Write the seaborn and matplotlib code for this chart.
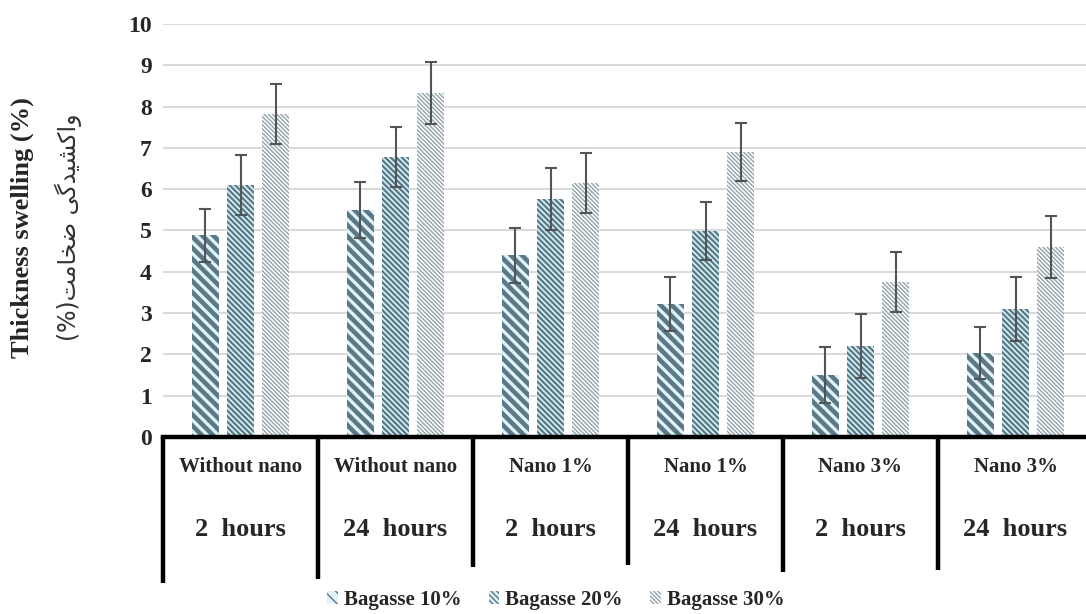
import numpy as np
import pandas as pd
import seaborn as sns
import matplotlib.pyplot as plt
from matplotlib.patches import Patch
from matplotlib.transforms import blended_transform_factory

# values
groups = ["G1", "G2", "G3", "G4", "G5", "G6"]
label_top = ["Without nano", "Without nano", "Nano 1%", "Nano 1%", "Nano 3%", "Nano 3%"]
label_bottom = ["2  hours", "24  hours", "2  hours", "24  hours", "2  hours", "24  hours"]
series = ["Bagasse 10%", "Bagasse 20%", "Bagasse 30%"]
bag10 = [4.88, 5.50, 4.40, 3.22, 1.50, 2.03]
bag20 = [6.10, 6.78, 5.76, 4.99, 2.20, 3.10]
bag30 = [7.82, 8.33, 6.15, 6.90, 3.75, 4.60]
err10 = [0.65, 0.67, 0.66, 0.65, 0.68, 0.63]
err20 = [0.73, 0.72, 0.75, 0.70, 0.78, 0.77]
err30 = [0.73, 0.75, 0.73, 0.70, 0.73, 0.75]
yticks = [0, 1, 2, 3, 4, 5, 6, 7, 8, 9, 10]

rows = []
for name, vals, errs in zip(series, [bag10, bag20, bag30], [err10, err20, err30]):
    for g, v, e in zip(groups, vals, errs):
        rows.append({"group": g, "series": name, "value": v, "err": e})
df = pd.DataFrame(rows)

sns.set_theme(style="white")
plt.rcParams['font.family'] = ['Liberation Serif', 'DejaVu Sans']

face_cols = ["#e0f3fa", "#dcf0f6", "#ffffff"]
line_cols = ["#5b7885", "#587a86", "#92a3ab"]
hatches = ["\\" * 3, "\\" * 6, "\\" * 8]
hatch_lw = [3.3, 1.6, 1.0]

fig = plt.figure(figsize=(10.86, 6.14), dpi=100)
ax = fig.add_axes([163 / 1086, 177 / 614, 930 / 1086, 413 / 614])

sns.barplot(data=df, x="group", y="value", hue="series", order=groups,
            hue_order=series, palette=face_cols, width=0.68, gap=0.23,
            errorbar=None, saturation=1, ax=ax, legend=False)

handles = []
bar_sets = list(ax.containers)
for k, cont in enumerate(bar_sets):
    sub = df[df.series == series[k]]
    xs, hs = [], []
    for bar in cont:
        bar.set_hatch(hatches[k])
        bar.set_edgecolor(line_cols[k])
        bar.set_linewidth(0)
        if hasattr(bar, "set_hatch_linewidth"):
            bar.set_hatch_linewidth(hatch_lw[k])
        xs.append(bar.get_x() + bar.get_width() / 2)
        hs.append(bar.get_height())
    ax.errorbar(xs, hs, yerr=sub.err.values, fmt="none", ecolor="#505558",
                elinewidth=1.5, capsize=4.5, capthick=1.5, zorder=5)
    h = Patch(facecolor=face_cols[k], edgecolor=line_cols[k], hatch=hatches[k], linewidth=0)
    if hasattr(h, "set_hatch_linewidth"):
        h.set_hatch_linewidth(hatch_lw[k])
    handles.append(h)

ax.set_ylim(0, 10)
ax.set_xlim(-0.5, 5.5)
ax.set_yticks(yticks)
ax.set_yticklabels([str(t) for t in yticks], fontsize=17, fontweight="bold")
ax.tick_params(axis="y", length=0, pad=8)
ax.set_xticks([])
ax.set_xlabel("")
ax.set_ylabel("")
ax.yaxis.grid(True, color="#d9d9d9", linewidth=1.4)
ax.set_axisbelow(True)
for s in ["left", "right", "top"]:
    ax.spines[s].set_visible(False)
ax.spines["bottom"].set_linewidth(3.2)
ax.spines["bottom"].set_color("black")

# table-like category labels under the axis
trans = blended_transform_factory(ax.transData, ax.transAxes)
line_ends = [-0.354, -0.344, -0.315, -0.310, -0.327, -0.322]
for i in range(len(groups)):
    ax.plot([i - 0.5, i - 0.5], [0, line_ends[i]], color="black", lw=3.2,
            transform=trans, clip_on=False, solid_capstyle="butt")
    ax.text(i, -0.072, label_top[i], transform=trans, ha="center", va="center",
            fontsize=15, fontweight="bold")
    ax.text(i, -0.225, label_bottom[i], transform=trans, ha="center", va="center",
            fontsize=19, fontweight="bold")

# axis titles
fig.text(22 / 1086, 1 - 228 / 614, "Thickness swelling (%)", rotation=90,
         ha="center", va="center", fontsize=19, fontweight="bold")
fa = "(%)" + "\uFE96\uFEE3\uFE8E\uFEA8\uFEBF" + " " + "\uFBFD\uFB94\uFEAA\uFBFF\uFEB8\uFB90\uFE8D\uFEED"
fig.text(68 / 1086, 1 - 227 / 614, fa, rotation=90, ha="center", va="center",
         fontsize=17, family=["DejaVu Sans"], color="#333333")

leg = fig.legend(handles, series, loc="center", bbox_to_anchor=(556 / 1086, 1 - 600 / 614),
                 ncol=3, frameon=False, handlelength=0.5, handleheight=0.6,
                 handletextpad=0.3, columnspacing=1.3,
                 prop={"family": "Liberation Serif", "weight": "bold", "size": 15})

fig.savefig("out.png", dpi=100)
